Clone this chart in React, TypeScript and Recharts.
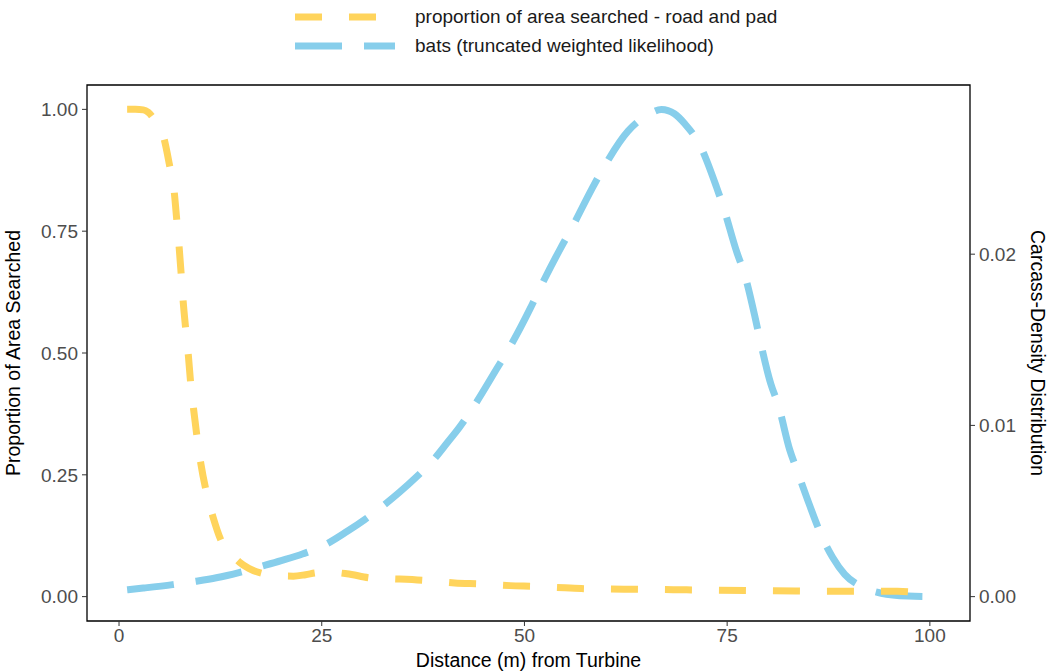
import { LineChart, Line, XAxis, YAxis, ReferenceArea } from 'recharts'

// proportion of area searched (road and pad)
const roadPadDistance = [1, 2, 3, 3.6, 4.5, 5.5, 6.2, 6.8, 7.1, 7.4, 7.65, 7.9, 8.2, 8.55, 8.8, 9.2, 9.6, 10.1, 10.7, 11.6, 12.7, 14, 14.9, 16, 17.8, 19.5, 21.5, 23, 24.4, 26, 28.1, 31.2, 34.6, 37.9, 41.4, 44.7, 48.2, 51.5, 55, 58.1, 65, 70, 80, 90, 96, 97.5, 98.5, 99]
const roadPadProportion = [1, 1, 0.999, 0.994, 0.975, 0.943, 0.888, 0.832, 0.777, 0.72, 0.665, 0.608, 0.553, 0.495, 0.445, 0.384, 0.33, 0.272, 0.22, 0.163, 0.111, 0.085, 0.07, 0.058, 0.047, 0.043, 0.042, 0.045, 0.049, 0.05, 0.047, 0.038, 0.036, 0.033, 0.028, 0.026, 0.0226, 0.021, 0.018, 0.016, 0.015, 0.014, 0.012, 0.011, 0.011, 0.01, 0.007, 0.003]

// bat carcass density (truncated weighted likelihood), right axis
const batDistance = [1, 3, 6.6, 9.2, 12, 14.9, 17.4, 20, 22.7, 25.3, 28.1, 30.3, 32.6, 34.6, 36.7, 38.8, 40.5, 42, 43.7, 46.6, 48.2, 50.7, 51.9, 54.4, 55.8, 58.3, 59.7, 62.8, 65.1, 66.9, 68.5, 69.8, 71.6, 73.7, 74.5, 76.2, 77.1, 78.4, 79, 80.4, 81.3, 82.7, 83.6, 85.2, 86.6, 88, 89.5, 91.8, 94, 97.3, 100]
const batDensity = [0.0004, 0.0005, 0.0007, 0.00088, 0.0011, 0.00142, 0.00175, 0.0021, 0.0025, 0.003, 0.0038, 0.0045, 0.00532, 0.0061, 0.007, 0.008, 0.009, 0.0099, 0.01107, 0.01332, 0.01458, 0.01682, 0.018, 0.0203, 0.0215, 0.0238, 0.025, 0.0272, 0.0281, 0.02845, 0.0282, 0.0276, 0.0264, 0.0239, 0.0228, 0.0201, 0.0189, 0.0164, 0.0151, 0.0124, 0.0112, 0.0086, 0.0074, 0.0053, 0.0036, 0.0023, 0.0013, 0.00054, 0.0002, 0.00003, 0]

const xTicks = [0, 25, 50, 75, 100]
const leftTicks = [0, 0.25, 0.5, 0.75, 1]
const rightTicks = [0, 0.01, 0.02]
const seriesNames = ['proportion of area searched - road and pad', 'bats (truncated weighted likelihood)']

const roadPadData = roadPadDistance.map((d, i) => ({ distance: d, value: roadPadProportion[i] }))
const batData = batDistance.map((d, i) => ({ distance: d, value: batDensity[i] }))

const YELLOW = '#FFD45C'
const BLUE = '#87CEEB'
const FONT = '"Liberation Sans", Arial, sans-serif'
const dashes = ['27 27', '47 22']
const colors = [YELLOW, BLUE]

function ChartLegend() {
  return (
    <div style={{ position: 'absolute', left: 0, top: 0, width: 1050, height: 70 }}>
      {seriesNames.map((name, i) => (
        <div key={name} style={{ position: 'absolute', left: 295, top: 5 + i * 29, height: 24, display: 'flex', alignItems: 'center' }}>
          <svg width={100} height={10} style={{ display: 'block' }}>
            <line x1={0} y1={5} x2={100} y2={5} stroke={colors[i]} strokeWidth={7} strokeDasharray={dashes[i]} />
          </svg>
          <span style={{ marginLeft: 20, fontSize: 19, fontFamily: FONT, color: '#1a1a1a', whiteSpace: 'nowrap' }}>{name}</span>
        </div>
      ))}
    </div>
  )
}

const leftTitle = ({ viewBox }: any) => {
  const x = viewBox.x + 13
  const y = viewBox.y + viewBox.height / 2
  return (
    <text x={x} y={y} transform={`rotate(-90, ${x}, ${y})`} textAnchor="middle" dominantBaseline="central" fontSize={19.5} fill="#000" fontFamily={FONT}>
      Proportion of Area Searched
    </text>
  )
}

const rightTitle = ({ viewBox }: any) => {
  const x = viewBox.x + viewBox.width - 12
  const y = viewBox.y + viewBox.height / 2
  return (
    <text x={x} y={y} transform={`rotate(90, ${x}, ${y})`} textAnchor="middle" dominantBaseline="central" fontSize={19.5} fill="#000" fontFamily={FONT}>
      Carcass-Density Distribution
    </text>
  )
}

const bottomTitle = ({ viewBox }: any) => {
  const x = viewBox.x + viewBox.width / 2
  const y = viewBox.y + viewBox.height - 11
  return (
    <text x={x} y={y} textAnchor="middle" dominantBaseline="central" fontSize={19.5} fill="#000" fontFamily={FONT}>
      Distance (m) from Turbine
    </text>
  )
}

const tickStyle = { fontSize: 19, fill: '#4D4D4D', fontFamily: FONT }

export default function App() {
  return (
    <div style={{ position: 'absolute', left: 0, top: 0, width: 1050, height: 671, background: '#fff' }}>
      <ChartLegend />
      <LineChart width={1050} height={671} margin={{ top: 85, right: 0, bottom: 0, left: 0 }}>
        <XAxis
          xAxisId="x"
          type="number"
          dataKey="distance"
          domain={[-3.95, 104.95]}
          ticks={xTicks}
          allowDataOverflow
          height={50}
          axisLine={false}
          tickLine={{ stroke: '#333' }}
          tickSize={5}
          tickMargin={3}
          tick={tickStyle}
          label={bottomTitle}
        />
        <YAxis
          yAxisId="left"
          type="number"
          domain={[-0.05, 1.05]}
          ticks={leftTicks}
          tickFormatter={(v: number) => v.toFixed(2)}
          allowDataOverflow
          width={87}
          axisLine={false}
          tickLine={{ stroke: '#333' }}
          tickSize={5}
          tickMargin={4}
          tick={tickStyle}
          label={leftTitle}
        />
        <YAxis
          yAxisId="right"
          orientation="right"
          type="number"
          domain={[-0.001423, 0.02988]}
          ticks={rightTicks}
          tickFormatter={(v: number) => v.toFixed(2)}
          allowDataOverflow
          width={80}
          axisLine={false}
          tickLine={{ stroke: '#333' }}
          tickSize={5}
          tickMargin={4}
          tick={tickStyle}
          label={rightTitle}
        />
        <ReferenceArea xAxisId="x" yAxisId="left" x1={-3.95} x2={104.95} y1={-0.05} y2={1.05} fill="none" stroke="#000" strokeWidth={1.3} />
        <Line
          xAxisId="x"
          yAxisId="right"
          data={batData}
          dataKey="value"
          type="monotone"
          stroke={BLUE}
          strokeWidth={7}
          strokeDasharray="47 22"
          dot={false}
          activeDot={false}
          isAnimationActive={false}
        />
        <Line
          xAxisId="x"
          yAxisId="left"
          data={roadPadData}
          dataKey="value"
          type="monotone"
          stroke={YELLOW}
          strokeWidth={7}
          strokeDasharray="27 27"
          dot={false}
          activeDot={false}
          isAnimationActive={false}
        />
      </LineChart>
    </div>
  )
}
